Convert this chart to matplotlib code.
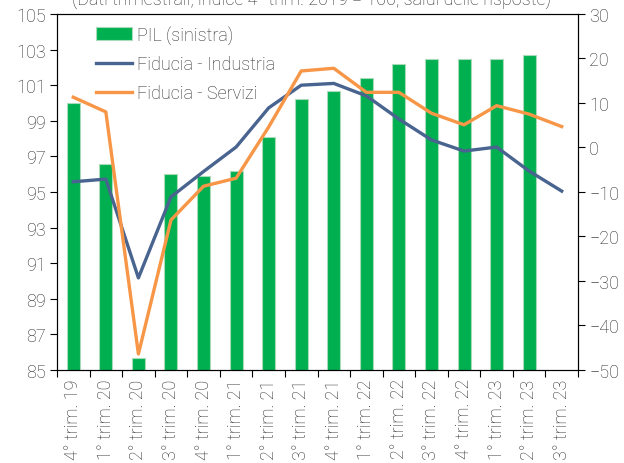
import numpy as np
import matplotlib
matplotlib.use("Agg")
import matplotlib.pyplot as plt

plt.rcParams['font.family'] = ['Roboto', 'DejaVu Sans']
plt.rcParams['font.weight'] = 'light'

quarters = ["4° trim. 19", "1° trim. 20", "2° trim. 20", "3° trim. 20", "4° trim. 20",
            "1° trim. 21", "2° trim. 21", "3° trim. 21", "4° trim. 21",
            "1° trim. 22", "2° trim. 22", "3° trim. 22", "4° trim. 22",
            "1° trim. 23", "2° trim. 23", "3° trim. 23"]
pil = [100.0, 96.6, 85.7, 96.0, 95.9, 96.2, 98.1, 100.2, 100.7,
       101.4, 102.2, 102.5, 102.45, 102.5, 102.7, np.nan]
industria = [-7.7, -7.1, -29.3, -11.1, -5.4, 0.1, 8.9, 14.0, 14.4,
             11.6, 6.4, 1.7, -0.8, 0.1, -5.3, -9.8]
servizi = [11.3, 8.0, -46.4, -16.3, -8.7, -6.9, 4.6, 17.2, 17.8,
           12.4, 12.4, 7.7, 5.1, 9.4, 7.5, 4.7]

txt = '#2b2b2b'
fs = 13
fig = plt.figure(figsize=(6.24, 4.64), dpi=100)
ax = fig.add_axes([57/624, 1-371/464, 521/624, 356/464])
ax2 = ax.twinx()

x = np.arange(len(quarters))
ax.bar(x, pil, width=0.4, color='#00B050', edgecolor='#a8dcb8', linewidth=0.8,
       label='PIL (sinistra)', zorder=2)
ax.set_ylim(85, 105)
ax.set_yticks(np.arange(85, 106, 2))
ax.set_xlim(-0.5, len(quarters)-0.5)

ax2.plot(x, industria, color='#48648F', lw=2.4, label='Fiducia - Industria', zorder=3)
ax2.plot(x, servizi, color='#F79646', lw=2.4, label='Fiducia - Servizi', zorder=3)
ax2.set_ylim(-50, 30)
ax2.set_yticks(np.arange(-50, 31, 10))

ax.set_xticks(np.arange(-0.5, len(quarters), 1))
ax.set_xticklabels([])
ax.set_xticks(x, minor=True)
ax.set_xticklabels(quarters, minor=True, rotation=90, fontsize=fs, color=txt)
ax.tick_params(axis='x', which='minor', length=0, pad=6)
ax.tick_params(axis='x', which='major', length=5, direction='out')
ax.tick_params(axis='y', labelsize=fs, labelcolor=txt, length=5, pad=3)
ax2.tick_params(axis='y', labelsize=fs, labelcolor=txt, length=5, pad=3)

h1, l1 = ax.get_legend_handles_labels()
h2, l2 = ax2.get_legend_handles_labels()
ax2.legend(h1 + h2, l1 + l2, loc='upper left', frameon=False, fontsize=fs,
           bbox_to_anchor=(0.044, 1.014), handlelength=2.0, labelspacing=0.6,
           handletextpad=0.25, labelcolor=txt, borderaxespad=0.5)

# title is partly cut off at the top edge, as in the original
fig.text(0.5, 1.0, "(Dati trimestrali, indice 4° trim. 2019 = 100, saldi delle risposte)",
         ha='center', va='center', fontsize=fs, color=txt)

fig.savefig('out.png', dpi=100)
